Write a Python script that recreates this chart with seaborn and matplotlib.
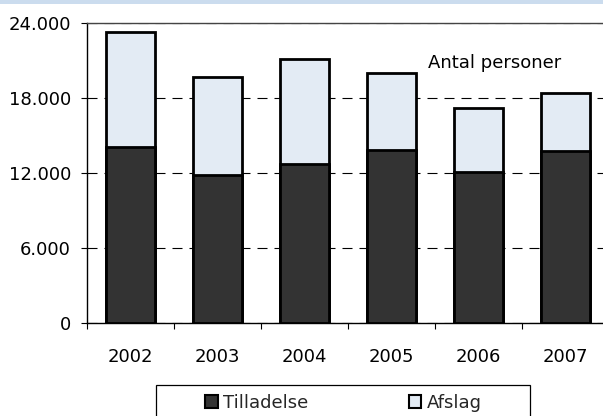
import matplotlib
matplotlib.use("Agg")
import matplotlib.pyplot as plt
from matplotlib.patches import Rectangle, Patch
from matplotlib.ticker import FixedLocator, FuncFormatter
import seaborn as sns
import pandas as pd
import numpy as np

years = ["2002", "2003", "2004", "2005", "2006", "2007"]
tilladelse = [14100, 11860, 12740, 13860, 12080, 13800]
afslag = [9200, 7820, 8380, 6140, 5120, 4650]
series_names = ["Tilladelse", "Afslag"]
y_ticks = [0, 6000, 12000, 18000, 24000]
annotation = "Antal personer"

dark = "#333333"
light = "#e3ebf4"
FS = 13

sns.set_theme(style="white")
plt.rcParams["font.family"] = ["DejaVu Sans"]

df = pd.DataFrame({"year": years, "Tilladelse": tilladelse, "Afslag": afslag})
df["total"] = df["Tilladelse"] + df["Afslag"]

fig = plt.figure(figsize=(6.03, 4.16), dpi=100)
W, H = 603, 416
ax = fig.add_axes([87 / W, (H - 323.3) / H, 522 / W, 300 / H])

sns.barplot(data=df, x="year", y="total", order=years, color=light, saturation=1,
            width=0.56, edgecolor="black", linewidth=2.0, ax=ax, zorder=3)
sns.barplot(data=df, x="year", y="Tilladelse", order=years, color=dark, saturation=1,
            width=0.56, edgecolor="black", linewidth=2.0, ax=ax, zorder=4)

ax.set_xlim(-0.5, 5.5)
ax.set_ylim(0, 24000)
ax.set_xlabel("")
ax.set_ylabel("")

ax.yaxis.set_major_locator(FixedLocator(y_ticks))
ax.yaxis.set_major_formatter(FuncFormatter(lambda v, p: f"{int(v):,}".replace(",", ".")))
ax.yaxis.grid(True, linestyle=(0, (9, 6.3)), color="black", linewidth=0.8)
ax.set_axisbelow(True)

ax.spines["right"].set_visible(False)
ax.spines["left"].set_color("black")
ax.spines["left"].set_linewidth(1.0)
ax.spines["bottom"].set_color("black")
ax.spines["bottom"].set_linewidth(1.0)
ax.spines["top"].set_color("#444444")
ax.spines["top"].set_linewidth(1.0)
ax.spines["top"].set_zorder(5)

ax.tick_params(axis="y", which="major", left=True, length=4.5, width=0.8, color="black",
               direction="out", pad=7, labelsize=FS, labelcolor="black")
ax.tick_params(axis="x", which="major", bottom=False, length=0, pad=18,
               labelsize=FS, labelcolor="black")
ax.xaxis.set_minor_locator(FixedLocator(np.arange(-0.5, 6.0, 1.0)))
ax.tick_params(axis="x", which="minor", bottom=True, length=4.5, width=0.8,
               color="black", direction="out")

ax.text((428 - 87) / 522, (323.3 - 63) / 300, annotation, transform=ax.transAxes,
        fontsize=FS, ha="left", va="center", color="black", zorder=6)

# top band
fig.patches.append(Rectangle((0, 1 - 4 / H), 1, 4 / H, transform=fig.transFigure,
                             facecolor="#cbdcee", edgecolor="none", zorder=0))

# legend frame
fig.patches.append(Rectangle((156 / W, -0.05), (530 - 156) / W, (H - 385) / H + 0.05,
                             transform=fig.transFigure, facecolor="white",
                             edgecolor="black", linewidth=0.9, zorder=1))
handles = [Patch(facecolor=dark, edgecolor="black", linewidth=1.5),
           Patch(facecolor=light, edgecolor="black", linewidth=1.5)]
fig.legend(handles, series_names, loc="center left",
           bbox_to_anchor=(205 / W, 1 - 403 / H), ncol=2, frameon=False,
           fontsize=FS, handlelength=0.7, handleheight=0.7, handletextpad=0.3,
           columnspacing=5.55, borderpad=0, borderaxespad=0)

fig.savefig("out.png", dpi=100)
